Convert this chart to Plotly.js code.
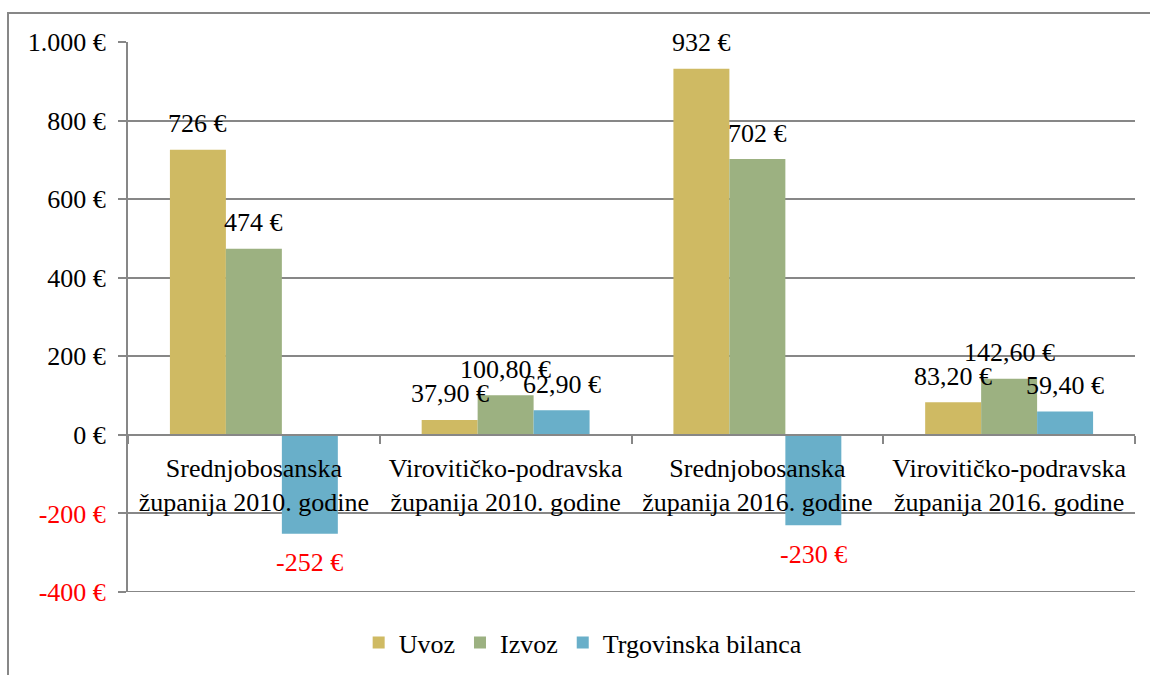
<!DOCTYPE html>
<html>
<head>
<meta charset="utf-8">
<script src="https://cdn.plot.ly/plotly-3.0.1.min.js"></script>
<style>
  html, body { margin: 0; padding: 0; background: #ffffff; overflow: hidden; font-family: 'Liberation Serif', serif; }
  #wrap { position: relative; width: 1150px; height: 675px; overflow: hidden; }
  #chart { position: absolute; left: 0; top: 0; width: 1150px; height: 675px; }
  #frame { position: absolute; left: 7px; top: 12px; width: 1200px; height: 720px;
           border: 2px solid #878787; pointer-events: none; box-sizing: border-box; }
</style>
</head>
<body>
<div id="wrap">
  <div id="chart"></div>
  <div id="frame"></div>
</div>
<script>
const categories = [
  "Srednjobosanska<br>županija 2010. godine",
  "Virovitičko-podravska<br>županija 2010. godine",
  "Srednjobosanska<br>županija 2016. godine",
  "Virovitičko-podravska<br>županija 2016. godine"
];
const seriesNames = ["Uvoz", "Izvoz", "Trgovinska bilanca"];
const uvoz = [726, 37.9, 932, 83.2];
const izvoz = [474, 100.8, 702, 142.6];
const bilanca = [-252, 62.9, -230, 59.4];
const labelDecimals = [0, 2, 0, 2];
const yTickVals = [-400, -200, 0, 200, 400, 600, 800, 1000];
const yTickText = ["-400 €", "-200 €", "0 €", "200 €", "400 €", "600 €", "800 €", "1.000 €"];

const colors = ["#CFBA63", "#9CB181", "#69AFC9"];
const FONT = "Liberation Serif";
const GRID = "#878787";
const W = 1150, H = 675;
const margin = {l: 128, r: 15, t: 42, b: 83, pad: 0, autoexpand: false};
const bargap = 0.333;
const yMin = -400, yMax = 1000;

const values = [uvoz, izvoz, bilanca];

const traces = values.map((v, i) => ({
  type: "bar",
  name: seriesNames[i],
  x: categories,
  y: v,
  marker: {color: colors[i], line: {width: 0}},
  hoverinfo: "skip"
}));

function fmt(v, d) {
  return v.toFixed(d).replace(".", ",") + " €";
}

const plotW = W - margin.l - margin.r;
const catW = plotW / categories.length;
const barW = catW * (1 - bargap) / values.length;

const annotations = [];
values.forEach((v, i) => {
  v.forEach((val, j) => {
    const neg = val < 0;
    annotations.push({
      x: categories[j], y: val, xref: "x", yref: "y",
      text: fmt(val, labelDecimals[j]),
      showarrow: false,
      xanchor: "center", yanchor: "middle",
      xshift: (i - 1) * barW,
      yshift: neg ? -29 : 26,
      font: {family: FONT, size: 26, color: neg ? "#FF0000" : "#000000"}
    });
  });
});

const yTickLabels = yTickVals.map((v, k) =>
  v < 0 ? '<span style="color:#FF0000">' + yTickText[k] + '</span>' : yTickText[k]);

const layout = {
  width: W, height: H,
  margin: margin,
  paper_bgcolor: "#ffffff",
  plot_bgcolor: "#ffffff",
  barmode: "group",
  bargap: bargap,
  bargroupgap: 0,
  font: {family: FONT, size: 26, color: "#000000"},
  showlegend: true,
  legend: {
    orientation: "h",
    x: 0.452, xanchor: "center",
    y: -0.092, yanchor: "middle",
    font: {family: FONT, size: 26, color: "#000000"},
    itemwidth: 30,
    bgcolor: "rgba(0,0,0,0)"
  },
  xaxis: {
    type: "category",
    anchor: "free",
    position: (0 - yMin) / (yMax - yMin),
    showline: true, linecolor: GRID, linewidth: 2,
    ticks: "outside", tickson: "boundaries", ticklen: 8,
    tickcolor: GRID, tickwidth: 2,
    showgrid: false, zeroline: false,
    tickfont: {family: FONT, size: 26, color: "#000000"},
    ticklabelstandoff: 10,
    automargin: false,
    fixedrange: true
  },
  yaxis: {
    range: [yMin, yMax],
    tickmode: "array", tickvals: yTickVals, ticktext: yTickLabels,
    showgrid: true, gridcolor: GRID, gridwidth: 2,
    zeroline: false,
    showline: true, linecolor: GRID, linewidth: 2,
    ticks: "outside", ticklen: 8, tickcolor: GRID, tickwidth: 2,
    tickfont: {family: FONT, size: 26, color: "#000000"},
    ticklabelstandoff: 7,
    automargin: false,
    fixedrange: true
  },
  shapes: [{
    type: "line", xref: "paper", yref: "y",
    x0: 0, x1: 1, y0: yMin, y1: yMin,
    line: {color: GRID, width: 2}, layer: "below"
  }],
  annotations: annotations
};

Plotly.newPlot("chart", traces, layout, {displayModeBar: false});
</script>
</body>
</html>
